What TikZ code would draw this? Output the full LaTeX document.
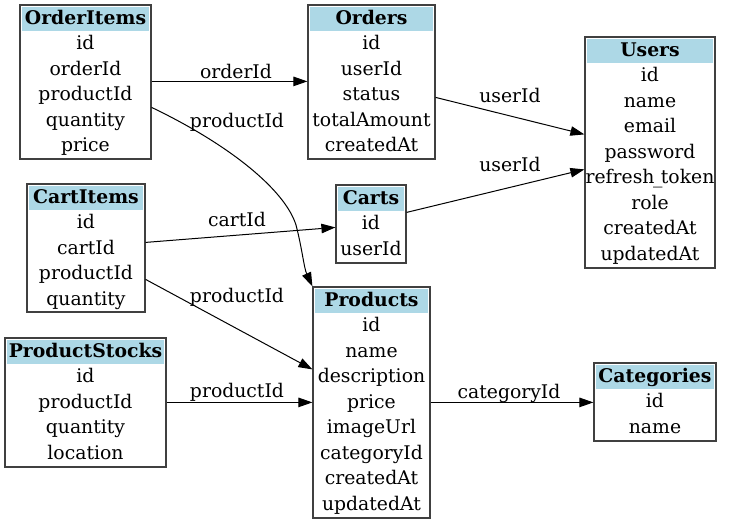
\documentclass[tikz,border=0pt]{standalone}
\usepackage{fontspec}
\setmainfont{DejaVu Serif}
\usetikzlibrary{arrows.meta,calc}
\definecolor{hdrblue}{HTML}{ADD8E6}
\tikzset{
  tblbox/.style={draw=black!75, line width=1.2pt, fill=white, inner sep=0pt},
  hdrfill/.style={fill=hdrblue},
  fieldtxt/.style={inner sep=0pt, text height=13pt, text depth=4pt, font=\fontsize{18.8}{18.8}\selectfont},
  hdrtxt/.style={inner sep=0pt, text height=13pt, text depth=4pt, font=\fontsize{18.8}{18.8}\selectfont\bfseries},
  lbltxt/.style={inner sep=0pt, text height=13pt, text depth=4pt, font=\fontsize{18.8}{18.8}\selectfont},
  rel/.style={draw=black, line width=1pt, -{Triangle[length=14pt,width=9.5pt]}},
}
\newcommand\uscore{\kern-1.5pt\_\kern-1.5pt}
% name, x1, y1, x2, y2, title, fields
\newcommand\erbox[7]{%
  \node[tblbox, minimum width={#4-#2}, minimum height={#5-#3}] (#1) at ({(#2+#4)/2},{(#3+#5)/2}) {};
  \fill[hdrfill] ({#2+2},{#3+2}) rectangle ({#4-2},{#3+26});
  \node[hdrtxt] (#1-h) at ({(#2+#4)/2},{#3+15}) {#6};
  \foreach \f [count=\i] in {#7} {
    \node[fieldtxt] (#1-\i) at ({(#2+#4)/2},{#3+40+25.5*(\i-1)}) {\f};
  }%
}
\begin{document}
\begin{tikzpicture}[x=1pt,y=-1pt]
\useasboundingbox (0,0) rectangle (731,523);
\erbox{oi}{20}{5}{151}{159}{OrderItems}{id,orderId,productId,quantity,price}
\erbox{or}{308}{5}{435}{159}{Orders}{id,userId,status,totalAmount,createdAt}
\erbox{us}{585}{37}{715}{268}{Users}{id,name,email,password,refresh\uscore token,role,createdAt,updatedAt}
\erbox{ci}{27}{184}{145}{312}{CartItems}{id,cartId,productId,quantity}
\erbox{ca}{336}{185}{406}{263}{Carts}{id,userId}
\erbox{pr}{313}{287}{430}{518}{Products}{id,name,description,price,imageUrl,categoryId,createdAt,updatedAt}
\erbox{ps}{5}{338}{166}{467}{ProductStocks}{id,productId,quantity,location}
\erbox{cat}{594}{363}{716}{441}{Categories}{id,name}

% edges
\draw[rel] ($(oi.north east)+(0,77)$) -- ($(or.north west)+(0,77)$);
\draw[rel] ($(oi.north east)+(0,103)$) .. controls (230,145) and (285,190) .. (296,225)
   .. controls (302,248) and (304,268) .. (pr.north west);
\draw[rel] ($(or.north east)+(0,93)$) -- ($(us.north west)+(0,98)$);
\draw[rel] ($(ca.north east)+(0,28)$) -- ($(us.north west)+(0,133)$);
\draw[rel] ($(ci.north east)+(0,59)$) -- ($(ca.north west)+(0,43)$);
\draw[rel] ($(ci.north east)+(0,96)$) -- ($(pr.north west)+(0,83)$);
\draw[rel] ($(ps.north east)+(0,65)$) -- ($(pr.north west)+(0,116)$);
\draw[rel] ($(pr.north east)+(0,116)$) -- ($(cat.north west)+(0,40)$);

% labels
\node[lbltxt] (l1) at (236,74) {orderId};
\node[lbltxt] (l2) at (237,123) {productId};
\node[lbltxt] (l3) at (510,98) {userId};
\node[lbltxt] (l4) at (510,167) {userId};
\node[lbltxt] (l5) at (237,222) {cartId};
\node[lbltxt] (l6) at (237,298) {productId};
\node[lbltxt] (l7) at (237,393) {productId};
\node[lbltxt] (l8) at (509,394) {categoryId};
\end{tikzpicture}
\end{document}
